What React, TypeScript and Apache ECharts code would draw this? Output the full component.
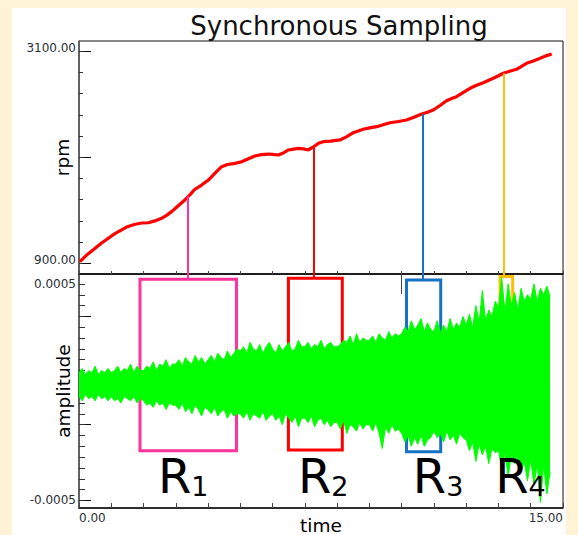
import React, { useEffect, useRef } from "react";
import * as echarts from "echarts";

const FONT = "'DejaVu Sans', Verdana, sans-serif";

const chartTitle = "Synchronous Sampling";
const xName = "time";
const rpmName = "rpm";
const ampName = "amplitude";

const timeRange = [0, 15];
const rpmRange = [789, 3207];
const ampRange = [-0.000535, 0.000546];

const timeLabels = [0, 15];
const timeMajorTicks = [10];
const rpmLabels = [900, 3100];
const rpmMajorTicks = [900, 2000, 3100];
const rpmMinorTicks = [900, 1120, 1340, 1560, 1780, 2000, 2220, 2440, 2660, 2880, 3100];
const ampLabels = [0.0005, -0.0005];
const ampMajorTicks = [0.00035, 0.00005, -0.00015, -0.0005];
const ampMinorTicks = [
  -0.0005, -0.00045, -0.0004, -0.00035, -0.0003, -0.00025, -0.0002, -0.00015, -0.0001, -0.00005,
  0, 0.00005, 0.0001, 0.00015, 0.0002, 0.00025, 0.0003, 0.00035, 0.0004, 0.00045, 0.0005,
];

// rpm curve
const rpmTime = [
  0.03, 0.25, 0.5, 0.7, 0.91, 1.1, 1.32, 1.5, 1.74, 1.95, 2.15, 2.35, 2.56, 2.7, 2.87, 3.05, 3.28, 3.45, 3.59, 3.8,
  4.01, 4.2, 4.42, 4.6, 4.73, 4.9, 5.04, 5.25, 5.45, 5.65, 5.87, 6.0, 6.18, 6.35, 6.49, 6.65, 6.8, 6.95, 7.11, 7.25,
  7.42, 7.57, 7.8, 8.09, 8.3, 8.5, 8.65, 8.81, 9.0, 9.23, 9.45, 9.64, 9.9, 10.15, 10.4, 10.62, 10.8, 10.98, 11.2, 11.39,
  11.55, 11.7, 11.9, 12.12, 12.3, 12.53, 12.7, 12.84, 13.0, 13.15, 13.35, 13.56, 13.7, 13.87, 14.1, 14.29, 14.45, 14.65,
];
const rpmValues = [
  917, 990, 1056, 1110, 1160, 1205, 1246, 1280, 1305, 1318, 1321, 1340, 1367, 1395, 1436, 1490, 1557, 1615, 1668, 1712,
  1764, 1830, 1903, 1925, 1931, 1942, 1954, 1985, 2014, 2028, 2034, 2030, 2024, 2048, 2076, 2085, 2093, 2088, 2076, 2105,
  2145, 2162, 2168, 2180, 2215, 2255, 2272, 2291, 2305, 2318, 2340, 2359, 2372, 2387, 2418, 2449, 2468, 2491, 2540, 2587,
  2610, 2629, 2672, 2716, 2745, 2774, 2800, 2820, 2846, 2872, 2893, 2913, 2940, 2975, 3003, 3027, 3050, 3072,
];

// vibration signal envelope, sampled every 0.1 s (units of 1e-5)
const sigStep = 0.1;
const sigUpper = [
  9, 11, 8, 10, 9, 12, 8, 10, 9, 11,
  9, 10, 12, 9, 11, 10, 13, 9, 12, 10,
  10, 12, 11, 14, 10, 13, 12, 15, 11, 13,
  13, 15, 12, 16, 14, 13, 17, 14, 16, 13,
  15, 17, 14, 18, 16, 15, 19, 16, 18, 20,
  19, 21, 18, 23, 20, 19, 22, 18, 21, 23,
  20, 18, 22, 19, 21, 23, 19, 20, 24, 21,
  21, 23, 20, 22, 21, 24, 20, 22, 23, 21,
  21, 22, 24, 23, 26, 22, 27, 23, 25, 24,
  24, 26, 23, 27, 25, 24, 28, 25, 27, 26,
  27, 30, 28, 33, 29, 31, 34, 28, 32, 29,
  28, 33, 27, 31, 28, 34, 29, 32, 30, 35,
  31, 36, 30, 40, 32, 47, 33, 38, 35, 42,
  39, 53, 37, 50, 40, 46, 38, 48, 42, 45,
  43, 50, 42, 48, 45, 49, 44,
];
const sigLower = [
  -2, -4, -1, -3, -2, -4, -1, -3, -2, -4,
  -2, -4, -3, -5, -2, -3, -4, -2, -5, -3,
  -4, -6, -5, -7, -4, -6, -5, -8, -5, -6,
  -6, -8, -5, -9, -7, -10, -6, -8, -11, -7,
  -8, -10, -7, -11, -9, -8, -12, -9, -11, -10,
  -10, -12, -9, -13, -10, -11, -12, -9, -13, -11,
  -10, -13, -11, -15, -10, -12, -14, -11, -16, -12,
  -12, -14, -11, -16, -13, -12, -15, -13, -16, -14,
  -14, -17, -13, -19, -15, -16, -18, -14, -17, -15,
  -15, -18, -14, -19, -26, -16, -19, -15, -18, -17,
  -19, -23, -20, -25, -21, -24, -20, -25, -22, -21,
  -18, -21, -19, -23, -18, -22, -20, -24, -19, -21,
  -22, -27, -23, -32, -24, -29, -25, -33, -26, -28,
  -27, -35, -28, -39, -29, -33, -30, -37, -32, -41,
  -31, -43, -33, -51, -34, -47, -37,
];

// highlighted regions
const regionNames = ["1", "2", "3", "4"];
const regionColors = ["#FF3399", "#FF0000", "#1672C4", "#FFBF00"];
const regionStart = [1.89, 6.49, 10.15, 13.05];
const regionEnd = [4.88, 8.16, 11.21, 13.44];
const regionTop = [0.000522, 0.000526, 0.000518, 0.000534];
const regionBottom = [-0.000271, -0.000267, -0.000275, -0.000262];
const linkTime = [3.38, 7.27, 10.64, 13.17];
const linkRpm = [1600, 2100, 2450, 2872];
const labelTime = [3.23, 7.57, 11.13, 13.68];
const labelAmp = [-0.000385, -0.000385, -0.000385, -0.000385];

const tickLabelStyle = { color: "#2a2f3a", fontSize: 12, fontFamily: FONT };
const nameStyle = { color: "#000", fontSize: 18.5, fontFamily: FONT };

function buildOption() {
  const sigUp = sigUpper.map((v, i) => [i * sigStep, v * 1e-5]);
  const sigLo = sigLower.map((v, i) => [i * sigStep, v * 1e-5]);
  return {
    animation: false,
    backgroundColor: "#FFF3D6",
    graphic: [
      { type: "rect", z: -10, silent: true, shape: { x: 12, y: 8, width: 554, height: 540 }, style: { fill: "#FFFFFF" } },
      {
        type: "text", x: 339, y: 26, silent: true,
        style: { text: chartTitle, font: `26px ${FONT}`, fill: "#111", textAlign: "center", textVerticalAlign: "middle" },
      },
    ],
    grid: [
      { left: 79, top: 41, width: 484, height: 233, outerBoundsMode: "none", containLabel: false, show: true, borderColor: "#111", borderWidth: 1, backgroundColor: "rgba(0,0,0,0)" },
      { left: 79, top: 274, width: 484, height: 234, outerBoundsMode: "none", containLabel: false, show: true, borderColor: "#111", borderWidth: 1, backgroundColor: "rgba(0,0,0,0)" },
    ],
    xAxis: [
      {
        type: "value", gridIndex: 0, min: timeRange[0], max: timeRange[1], interval: 1,
        axisLine: { show: true, onZero: false, lineStyle: { color: "#111", width: 1.5 } },
        axisTick: { show: true, inside: true, length: 3, lineStyle: { color: "#444" } },
        axisLabel: { show: false }, splitLine: { show: false },
      },
      {
        type: "value", gridIndex: 1, min: timeRange[0], max: timeRange[1], interval: 1,
        name: xName, nameLocation: "middle", nameGap: 8, nameMoveOverlap: false, nameTextStyle: nameStyle,
        axisLine: { show: true, onZero: false, lineStyle: { color: "#111", width: 1.5 } },
        axisTick: { show: true, inside: true, length: 5, lineStyle: { color: "#444" } },
        axisLabel: {
          ...tickLabelStyle, margin: 3.5, customValues: timeLabels,
          alignMinLabel: "left", alignMaxLabel: "right",
          formatter: (v: number) => v.toFixed(2),
        },
        splitLine: { show: false },
      },
      {
        type: "value", gridIndex: 1, min: timeRange[0], max: timeRange[1],
        axisLine: { show: false, onZero: false },
        axisTick: { show: true, inside: true, length: 20, customValues: timeMajorTicks, lineStyle: { color: "#444" } },
        axisLabel: { show: false }, splitLine: { show: false },
      },
    ],
    yAxis: [
      {
        type: "value", gridIndex: 0, position: "left", min: rpmRange[0], max: rpmRange[1],
        name: rpmName, nameLocation: "middle", nameGap: 7, nameRotate: 90, nameMoveOverlap: false, nameTextStyle: nameStyle,
        axisLine: { show: true, onZero: false, lineStyle: { color: "#555", width: 1.5 } },
        axisTick: { show: true, inside: true, length: 12, customValues: rpmMajorTicks, lineStyle: { color: "#111" } },
        axisLabel: {
          ...tickLabelStyle, margin: 3, customValues: rpmLabels, verticalAlign: "bottom", lineHeight: 7,
          formatter: (v: number) => v.toFixed(2),
        },
        splitLine: { show: false },
      },
      {
        type: "value", gridIndex: 0, position: "left", min: rpmRange[0], max: rpmRange[1],
        axisLine: { show: false, onZero: false },
        axisTick: { show: true, inside: true, length: 4, customValues: rpmMinorTicks, lineStyle: { color: "#333" } },
        axisLabel: { show: false }, splitLine: { show: false },
      },
      {
        type: "value", gridIndex: 1, position: "left", min: ampRange[0], max: ampRange[1],
        name: ampName, nameLocation: "middle", nameGap: 6, nameRotate: 90, nameMoveOverlap: false, nameTextStyle: nameStyle,
        axisLine: { show: true, onZero: false, lineStyle: { color: "#555", width: 1.5 } },
        axisTick: { show: true, inside: true, length: 12, customValues: ampMajorTicks, lineStyle: { color: "#111" } },
        axisLabel: {
          ...tickLabelStyle, margin: 3, customValues: ampLabels,
          formatter: (v: number) => (v > 0 ? "0.0005" : "-0.0005"),
        },
        splitLine: { show: false },
      },
      {
        type: "value", gridIndex: 1, position: "left", min: ampRange[0], max: ampRange[1],
        axisLine: { show: false, onZero: false },
        axisTick: { show: true, inside: true, length: 6, customValues: ampMinorTicks, lineStyle: { color: "#333" } },
        axisLabel: { show: false }, splitLine: { show: false },
      },
    ],
    series: [
      {
        type: "line", name: "links-upper", xAxisIndex: 0, yAxisIndex: 0, data: [], z: 1, silent: true,
        markLine: {
          silent: true, symbol: ["none", "none"], label: { show: false }, animation: false,
          data: linkTime.map((t, i) => [
            { coord: [t, linkRpm[i]], lineStyle: { color: regionColors[i], width: 2, type: "solid" } },
            { coord: [t, rpmRange[0]] },
          ]),
        },
      },
      {
        type: "line", name: "rpm", xAxisIndex: 0, yAxisIndex: 0, z: 3, silent: true,
        data: rpmTime.map((t, i) => [t, rpmValues[i]]),
        symbol: "none", showSymbol: false,
        lineStyle: { color: "#FF0000", width: 3.2 },
      },
      {
        type: "line", name: "amp-upper", xAxisIndex: 1, yAxisIndex: 2, z: 2, silent: true,
        data: sigUp, symbol: "none", showSymbol: false,
        lineStyle: { color: "#00FF00", width: 1 },
        areaStyle: { color: "#00FF00", opacity: 1, origin: -0.00001 },
      },
      {
        type: "line", name: "amp-lower", xAxisIndex: 1, yAxisIndex: 2, z: 2, silent: true,
        data: sigLo, symbol: "none", showSymbol: false,
        lineStyle: { color: "#00FF00", width: 1 },
        areaStyle: { color: "#00FF00", opacity: 1, origin: 0.00001 },
      },
      {
        type: "line", name: "links-lower", xAxisIndex: 1, yAxisIndex: 2, data: [], z: 4, silent: true,
        markLine: {
          silent: true, symbol: ["none", "none"], label: { show: false }, animation: false,
          data: linkTime.map((t, i) => [
            { coord: [t, ampRange[1]], lineStyle: { color: regionColors[i], width: 2, type: "solid" } },
            { coord: [t, regionTop[i]] },
          ]),
        },
      },
      {
        type: "line", name: "regions", xAxisIndex: 1, yAxisIndex: 2, data: [], z: 5, silent: true,
        markArea: {
          silent: true, label: { show: false },
          data: regionNames.map((_, i) => [
            { coord: [regionStart[i], regionTop[i]], itemStyle: { color: "rgba(0,0,0,0)", borderColor: regionColors[i], borderWidth: 3 } },
            { coord: [regionEnd[i], regionBottom[i]] },
          ]),
        },
      },
      {
        type: "scatter", name: "region-labels", xAxisIndex: 1, yAxisIndex: 2, z: 6, silent: true,
        symbolSize: 0,
        itemStyle: { opacity: 1 },
        data: labelTime.map((t, i) => [t, labelAmp[i], regionNames[i]]),
        label: {
          show: true, position: "inside", color: "#000", opacity: 1, textBorderWidth: 0, textBorderColor: "transparent",
          formatter: (p: any) => `{r|R}{s|${p.value[2]}}`,
          rich: {
            r: { fontSize: 48, lineHeight: 48, fontFamily: FONT, color: "#000", textBorderWidth: 0 },
            s: { fontSize: 27, lineHeight: 18, fontFamily: FONT, color: "#000", verticalAlign: "bottom", textBorderWidth: 0 },
          },
        },
      },
    ],
  };
}

export default function App() {
  const ref = useRef<HTMLDivElement>(null);
  useEffect(() => {
    if (!ref.current) return;
    const chart = echarts.init(ref.current, null, { renderer: "svg" });
    chart.setOption(buildOption() as any);
    return () => chart.dispose();
  }, []);
  return <div ref={ref} style={{ position: "fixed", left: 0, top: 0, width: 578, height: 535 }} />;
}
